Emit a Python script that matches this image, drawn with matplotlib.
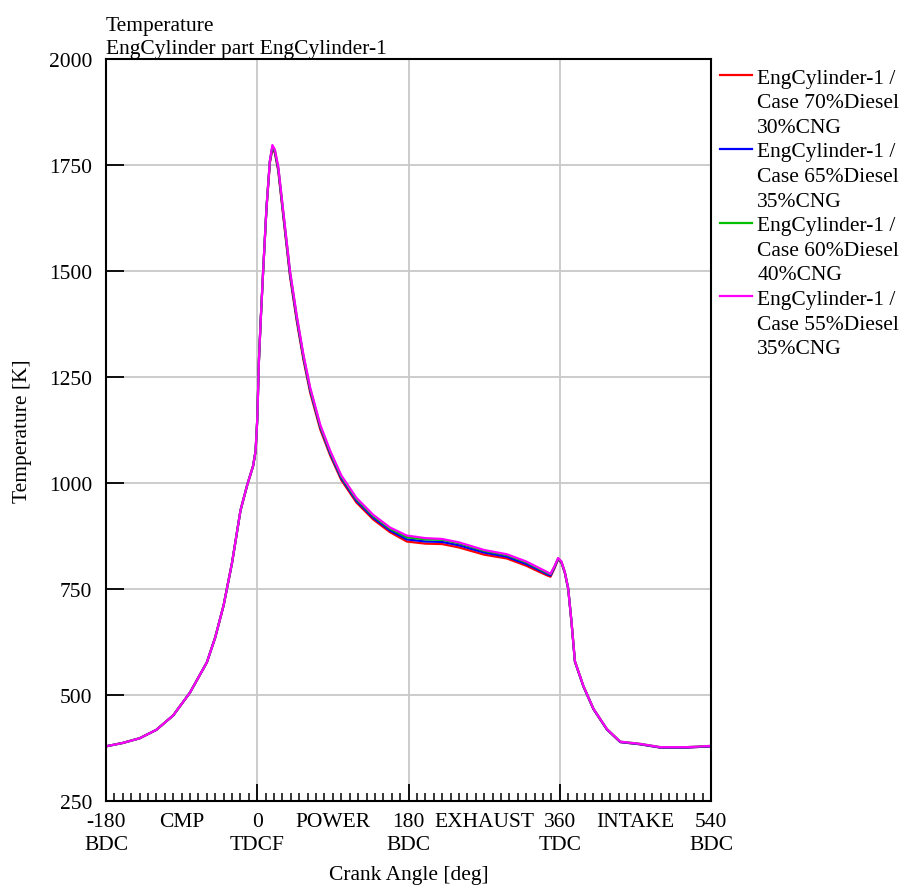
import matplotlib.pyplot as plt
from matplotlib.ticker import MultipleLocator
from matplotlib.lines import Line2D
import matplotlib.transforms as mtransforms

plt.rcParams['font.family'] = ['Liberation Serif', 'DejaVu Serif']

# crank angle [deg] and cylinder gas temperature [K] per case
crank_angle = [-180, -160, -140, -120, -100, -80, -60, -50, -40, -30, -20, -12, -5, -2, 0,
               2, 4, 7, 11, 15, 18, 21, 25, 31, 39, 47, 55, 63, 75, 87,
               100, 118, 138, 158, 178, 200, 220, 240, 270, 297, 320, 335, 345, 349, 354,
               358, 362, 366, 370, 374, 378, 388, 400, 416, 432, 455, 480, 510, 540]

temp_70_30 = [379, 387, 398, 418, 452, 506, 577, 636, 712, 812, 935, 995, 1040, 1075, 1150,
              1290, 1380, 1500, 1648, 1755, 1788, 1778, 1736, 1628, 1487, 1382, 1290, 1213, 1126, 1064,
              1007, 954, 914, 884, 862, 857, 856, 848, 831, 822, 805, 791, 782, 779, 800,
              820, 812, 788, 750, 671, 579, 521, 467, 419, 389, 384, 376, 376, 379]

temp_65_35 = [379, 387, 398, 418, 452, 506, 577, 636, 712, 812, 935, 995, 1040, 1075, 1150,
              1290, 1380, 1500, 1650, 1758, 1792, 1781, 1740, 1633, 1492, 1387, 1295, 1218, 1131, 1068,
              1011, 958, 918, 888, 867, 862, 861, 853, 836, 826, 809, 795, 785, 782, 802,
              821, 813, 789, 751, 671, 579, 521, 467, 419, 389, 384, 376, 376, 379]

temp_60_40 = [379, 387, 398, 418, 452, 506, 577, 636, 712, 812, 935, 995, 1040, 1075, 1150,
              1290, 1380, 1500, 1650, 1759, 1794, 1783, 1743, 1637, 1497, 1392, 1299, 1222, 1134, 1072,
              1015, 962, 922, 892, 872, 867, 866, 858, 840, 830, 813, 798, 788, 785, 804,
              822, 814, 790, 752, 672, 580, 522, 468, 420, 390, 385, 377, 377, 380]

temp_55_35 = [379, 387, 398, 418, 452, 506, 577, 636, 712, 812, 935, 995, 1040, 1075, 1150,
              1290, 1380, 1500, 1650, 1760, 1797, 1786, 1746, 1640, 1500, 1395, 1302, 1225, 1137, 1075,
              1018, 965, 925, 895, 876, 870, 868, 860, 842, 832, 815, 800, 790, 786, 805,
              823, 815, 790, 752, 672, 580, 522, 468, 420, 390, 385, 377, 377, 380]

series = [
    (temp_70_30, '#ff0000', ['EngCylinder-1 /', 'Case 70%Diesel', '30%CNG']),
    (temp_65_35, '#0000ff', ['EngCylinder-1 /', 'Case 65%Diesel', '35%CNG']),
    (temp_60_40, '#00c000', ['EngCylinder-1 /', 'Case 60%Diesel', '40%CNG']),
    (temp_55_35, '#ff00ff', ['EngCylinder-1 /', 'Case 55%Diesel', '35%CNG']),
]

major_ticks = [-180, 0, 180, 360, 540]
major_labels = ['-180\nBDC', '0\nTDCF', '180\nBDC', '360\nTDC', '540\nBDC']
stroke_pos = [-90, 90, 270, 450]
stroke_names = ['CMP', 'POWER', 'EXHAUST', 'INTAKE']

FS = 15.5

fig = plt.figure(figsize=(9.03, 8.87), dpi=100)
ax = fig.add_axes([0.1174, 0.0958, 0.670, 0.8366])

handles, labels = [], []
for temps, color, label_lines in series:
    ax.plot(crank_angle, temps, color=color, linewidth=1.6)
    # handle only on the first line of each entry
    handles.append(Line2D([], [], color=color, linewidth=1.6))
    labels.append(label_lines[0])
    for extra in label_lines[1:]:
        handles.append(Line2D([], [], linestyle='none'))
        labels.append(extra)

ax.set_xlim(-180, 540)
ax.set_ylim(250, 2000)
ax.set_xticks(major_ticks)
ax.set_xticklabels(major_labels, fontsize=FS, linespacing=1.25)
ax.xaxis.set_minor_locator(MultipleLocator(10))
ax.yaxis.set_major_locator(MultipleLocator(250))
ax.tick_params(axis='both', which='major', direction='in', width=1.3, labelsize=FS, color='black')
ax.tick_params(axis='x', which='major', length=12, pad=8)
ax.tick_params(axis='x', which='minor', direction='in', length=6, width=1.1)
ax.tick_params(axis='y', which='major', length=13, pad=10)
ax.grid(True, which='major', color='#c8c8c8', linewidth=1.3)
for sp in ax.spines.values():
    sp.set_linewidth(1.5)

# stroke names between the dead-centre labels
trans = mtransforms.blended_transform_factory(ax.transData, ax.transAxes)
for xpos, name in zip(stroke_pos, stroke_names):
    ax.text(xpos, -0.0152, name, transform=trans, ha='center', va='top', fontsize=FS)

ax.set_xlabel('Crank Angle [deg]', fontsize=FS, labelpad=8)
ax.set_ylabel('Temperature [K]', fontsize=FS)
ax.yaxis.set_label_coords(-0.122, 0.5)
ax.set_title('Temperature\nEngCylinder part EngCylinder-1', loc='left', fontsize=FS,
             linespacing=1.3, pad=4)

ax.legend(handles, labels, loc='upper left', bbox_to_anchor=(1.0, 1.0), frameon=False,
          fontsize=FS, handlelength=1.5, handletextpad=0.25, labelspacing=0.21,
          borderaxespad=0.0, borderpad=0.4)

fig.savefig('out.png', dpi=100)
